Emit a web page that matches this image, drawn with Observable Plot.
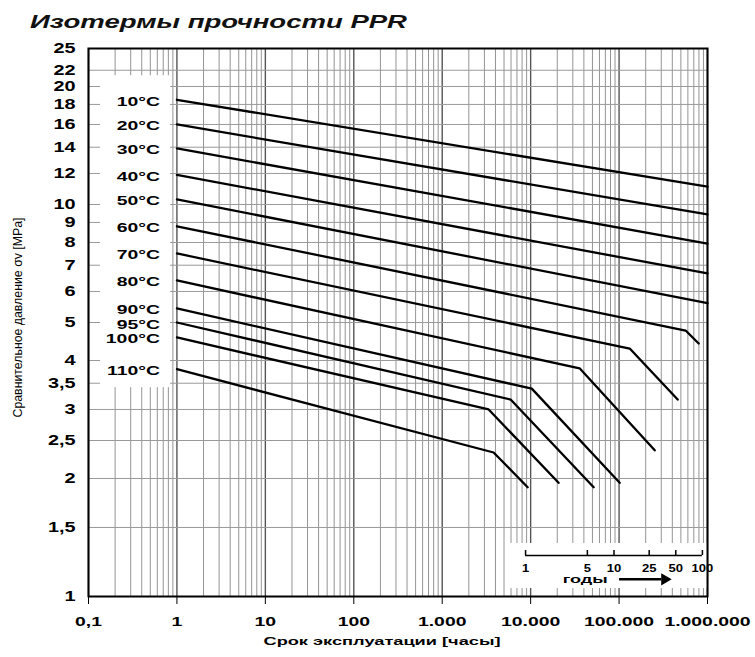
<!DOCTYPE html>
<html><head><meta charset="utf-8">
<script src="https://cdn.jsdelivr.net/npm/d3@7"></script>
<script src="https://cdn.jsdelivr.net/npm/@observablehq/plot@0.6"></script>
<style>
html,body{margin:0;padding:0;background:#fff;}
#wrap{position:relative;width:755px;height:657px;font-family:"Liberation Sans",Arial,sans-serif;}
#title{position:absolute;left:30px;top:13px;font-size:18px;line-height:18px;font-weight:bold;font-style:italic;white-space:nowrap;transform-origin:0 0;color:#111;z-index:2;}
#wrap svg{position:absolute;left:0;top:0;}
</style></head><body>
<div id="wrap"><div id="title">Изотермы прочности PPR</div></div>
<script>
// ---- data ----
const temps = ["10°C","20°C","30°C","40°C","50°C","60°C","70°C","80°C","90°C","95°C","100°C","110°C"];
const timeHours = [
  [1, 1e6], [1, 1e6], [1, 1e6], [1, 1e6], [1, 1e6],
  [1, 566000, 795000], [1, 132000, 460000], [1, 35800, 253000],
  [1, 10300, 101600], [1, 5940, 51600], [1, 3350, 20700], [1, 3810, 9250]
];
const stressMPa = [
  [18.5, 11.1], [16.0, 9.43], [13.9, 7.95], [11.9, 6.67], [10.3, 5.6],
  [8.8, 4.77, 4.42], [7.5, 4.29, 3.18], [6.4, 3.82, 2.36],
  [5.43, 3.39, 1.95], [5.0, 3.18, 1.90], [4.58, 3.0, 1.95], [3.8, 2.33, 1.90]
];
const xTicks = [0.1, 1, 10, 100, 1000, 1e4, 1e5, 1e6];
const xTickLabels = ["0,1","1","10","100","1.000","10.000","100.000","1.000.000"];
const yTicks = [1, 1.5, 2, 2.5, 3, 3.5, 4, 5, 6, 7, 8, 9, 10, 12, 14, 16, 18, 20, 22, 25];
const yTickLabels = ["1","1,5","2","2,5","3","3,5","4","5","6","7","8","9","10","12","14","16","18","20","22","25"];
const yearTicks = [1, 5, 10, 25, 50, 100];
const hoursPerYear = 8760;
const titleText = "Изотермы прочности PPR";
const xLabel = "Срок эксплуатации [часы]";
const yLabel = "Сравнительное давление σv [MPa]";
const yearsWord = "годы";

// annotation anchors (data units)
const labelPanel = {x1: 0.137, x2: 0.846, y1: 3.41, y2: 21.3};
const yearsPanel = {x1: 5640, x2: 1e6, y1: 1.048, y2: 1.365};
const yearsAxisLevel = 1.272, yearsTickTop = 1.31, yearsLabelLevel = 1.179, yearsWordLevel = 1.106;
const arrowFrom = 1.0e5, arrowTo = 3.0e5, arrowHead = 3.28e5, yearsWordX = 41400;

// ---- derived tables ----
const rows = [];
temps.forEach((t, i) => timeHours[i].forEach((h, j) => rows.push({temp: t, h, p: stressMPa[i][j]})));
const starts = temps.map((t, i) => ({temp: t, h: timeHours[i][0], p: stressMPa[i][0]}));
const minorX = [];
for (let e = -1; e <= 5; e++) for (let m = 2; m <= 9; m++) minorX.push(m * Math.pow(10, e));
const xLab = new Map(xTicks.map((d, i) => [d, xTickLabels[i]]));
const yLab = new Map(yTicks.map((d, i) => [d, yTickLabels[i]]));

const chart = Plot.plot({
  width: 755, height: 657,
  marginTop: 48, marginLeft: 88, marginRight: 48, marginBottom: 61,
  style: {fontFamily: "'Liberation Sans', Arial, sans-serif", color: "black", background: "transparent"},
  x: {type: "log", domain: [0.1, 1e6]},
  y: {type: "log", domain: [1, 25]},
  marks: [
    Plot.ruleX(minorX, {stroke: "#949494", strokeWidth: 1}),
    Plot.ruleX(xTicks, {stroke: "#555", strokeWidth: 1.4}),
    Plot.ruleY(yTicks, {stroke: "#9a9a9a", strokeWidth: 1}),
    Plot.rect([labelPanel], {x1: "x1", x2: "x2", y1: "y1", y2: "y2", fill: "white"}),
    Plot.rect([yearsPanel], {x1: "x1", x2: "x2", y1: "y1", y2: "y2", fill: "white"}),
    Plot.line(rows, {x: "h", y: "p", z: "temp", stroke: "black", strokeWidth: 2.3}),
    // text mark #1: temperature labels
    Plot.text(starts, {x: "h", y: "p", text: "temp", textAnchor: "end", dx: -17, dy: 2, fontSize: 12.5, fontWeight: "bold", fill: "black"}),
    // years inset axis
    Plot.ruleY([yearsAxisLevel], {x1: hoursPerYear * yearTicks[0], x2: hoursPerYear * yearTicks[yearTicks.length - 1], stroke: "black", strokeWidth: 1.5}),
    Plot.ruleX(yearTicks, {x: d => d * hoursPerYear, y1: yearsAxisLevel, y2: yearsTickTop, stroke: "black", strokeWidth: 1.5}),
    // text mark #2: year tick labels
    Plot.text(yearTicks, {x: d => d * hoursPerYear, y: yearsLabelLevel, text: d => String(d), fontSize: 10, fontWeight: "bold", fill: "black"}),
    // text mark #3: "годы"
    Plot.text([yearsWord], {x: yearsWordX, y: yearsWordLevel, text: d => d, fontSize: 10.5, fontWeight: "bold", fill: "black"}),
    Plot.link([0], {x1: arrowFrom, x2: arrowTo, y1: yearsWordLevel, y2: yearsWordLevel, stroke: "black", strokeWidth: 2.5}),
    Plot.dot([0], {x: arrowHead, y: yearsWordLevel, symbol: "triangle", rotate: 90, r: 4.5, fill: "black"}),
    // axes
    Plot.axisX(xTicks, {tickFormat: d => xLab.get(d), tickSize: 8, tickPadding: 12, fontSize: 13, fontWeight: "bold", label: null, stroke: "black"}),
    Plot.axisY(yTicks, {tickFormat: d => yLab.get(d), tickSize: 0, tickPadding: 13, fontSize: 14, fontWeight: "bold", label: null}),
    Plot.frame({stroke: "black", strokeWidth: 2}),
    // text mark #4: x label
    Plot.text([xLabel], {frameAnchor: "bottom", dy: 48, dx: -16, text: d => d, fontSize: 11.5, fontWeight: "bold", fill: "black"}),
    // text mark #5: y label
    Plot.text([yLabel], {frameAnchor: "left", textAnchor: "middle", dx: -70, dy: -5, rotate: -90, text: d => d, fontSize: 12, fill: "black"})
  ]
});

document.getElementById("wrap").appendChild(chart);

// emulate the horizontally stretched lettering of the original
function stretchTexts(nodes, s) {
  nodes.forEach(t => {
    const L = t.getComputedTextLength();
    const target = s.w != null ? s.w : L * s.k;
    t.setAttribute("textLength", target.toFixed(1));
    t.setAttribute("lengthAdjust", "spacingAndGlyphs");
  });
}
stretchTexts(chart.querySelectorAll('g[aria-label="x-axis tick label"] text'), {k: 1.49});
stretchTexts(chart.querySelectorAll('g[aria-label="y-axis tick label"] text'), {k: 1.42});
const textGroups = Array.from(chart.querySelectorAll('g[aria-label="text"]'));
const textSpecs = [{k: 1.55}, {k: 1.3}, {w: 45}, {w: 237}, {w: 200}];
textGroups.forEach((g, i) => { if (textSpecs[i]) stretchTexts(g.querySelectorAll("text"), textSpecs[i]); });

const title = document.getElementById("title");
title.textContent = titleText;
const tw = title.getBoundingClientRect().width;
title.style.transform = `scaleX(${377 / tw})`;
</script>
</body></html>
